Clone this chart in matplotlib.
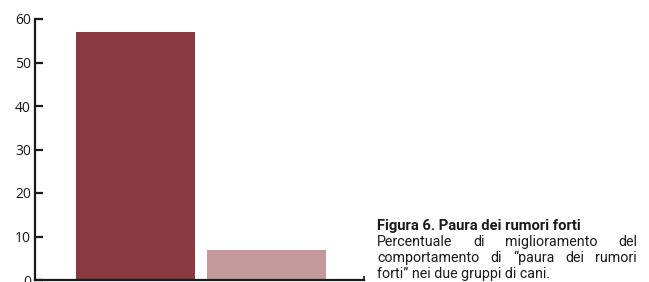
import matplotlib
matplotlib.use('Agg')
import matplotlib.pyplot as plt

# data
groups = ['Gruppo A', 'Gruppo B']
values = [57, 7]
bar_colors = ['#8A3940', '#C4999D']
yticks = [0, 10, 20, 30, 40, 50, 60]

title = 'Figura 6. Paura dei rumori forti'
caption_lines = [
    ['Percentuale', 'di', 'miglioramento', 'del'],
    ['comportamento', 'di', '\u201cpaura', 'dei', 'rumori'],
]
caption_last = 'forti\u201d nei due gruppi di cani.'

W, H = 649, 282
fig = plt.figure(figsize=(W / 100, H / 100), dpi=100)
ax = fig.add_axes([35 / W, 2 / H, 329 / W, 261 / H])

x = range(len(groups))
ax.bar(x, values, width=0.908, color=bar_colors)
ax.set_xlim(-0.767, 1.744)
ax.set_ylim(0, 60)

for s in ['top', 'right']:
    ax.spines[s].set_visible(False)
for s in ['left', 'bottom']:
    ax.spines[s].set_linewidth(1.6)
    ax.spines[s].set_color('#1a1a1a')

ax.set_yticks(yticks)
ax.set_yticklabels([str(v) for v in yticks], family='Open Sans')
ax.tick_params(axis='y', direction='in', length=5.5, width=1.6, pad=3,
               labelsize=10, colors='#1a1a1a')
# only a small stub at the right end of the x axis
ax.set_xticks([1.744])
ax.set_xticklabels([''])
ax.tick_params(axis='x', direction='in', length=3, width=1.2, color='#1a1a1a')

font = 'Roboto'
fs = 10.3
x0, x1 = 377, 637

fig.text(x0 / W, 1 - 230 / H, title, fontsize=10.6, fontweight='bold',
         family=font, va='baseline', ha='left', color='#1a1a1a')

renderer = fig.canvas.get_renderer()
baselines = [246, 262]
for words, yb in zip(caption_lines, baselines):
    texts = [fig.text(0, 1 - yb / H, w, fontsize=fs, family=font,
                      va='baseline', ha='left', color='#1a1a1a') for w in words]
    widths = [t.get_window_extent(renderer).width for t in texts]
    gap = ((x1 - x0) - sum(widths)) / (len(words) - 1)
    pos = x0
    for t, w in zip(texts, widths):
        t.set_x(pos / W)
        pos += w + gap

fig.text(x0 / W, 1 - 278 / H, caption_last, fontsize=fs, family=font,
         va='baseline', ha='left', color='#1a1a1a')

fig.savefig('out.png', dpi=100)
